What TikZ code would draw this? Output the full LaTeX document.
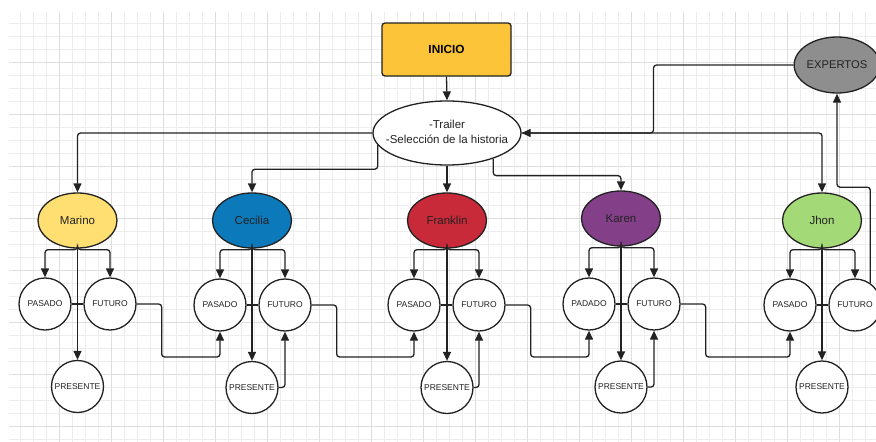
\documentclass[tikz,border=0pt]{standalone}
\usepackage{fontspec}
\setmainfont{Liberation Sans}
\usetikzlibrary{arrows.meta,shapes.geometric}
\definecolor{cInicio}{HTML}{FCC438}
\definecolor{cExp}{HTML}{8E8E8E}
\definecolor{cMarino}{HTML}{FFDF71}
\definecolor{cCecilia}{HTML}{0C79BB}
\definecolor{cFranklin}{HTML}{C92A39}
\definecolor{cKaren}{HTML}{834089}
\definecolor{cJhon}{HTML}{A3D977}
\definecolor{gminor}{HTML}{EDEDED}
\definecolor{gmajor}{HTML}{DEDEDE}
\definecolor{ink}{HTML}{222222}
\begin{document}
\begin{tikzpicture}[x=1pt,y=-1pt,
  line/.style={line width=1.3pt, draw=ink, rounded corners=3pt},
  arr/.style={line, -{Triangle[length=9pt,width=8pt]}},
  charnode/.style={ellipse, draw=ink, line width=1.3pt, minimum width=79pt, minimum height=55pt, inner sep=0pt, font=\fontsize{11.5}{14}\selectfont, text=ink},
  tcirc/.style={circle, draw=ink, fill=white, line width=1.3pt, minimum size=52pt, inner sep=0pt, font=\fontsize{8.5}{10}\selectfont, text=ink},
  gridminor/.style={draw=gminor, line width=0.9pt},
  gridmajor/.style={draw=gmajor, line width=1pt},
]
\useasboundingbox (0,0) rectangle (876,442);
\fill[white] (0,0) rectangle (876,442);
\begin{scope}
  \clip (9,12) rectangle (876,442);
  \foreach \x in {7,20,...,880} \draw[gridminor] (\x,12) -- (\x,442);
  \foreach \y in {10,23,...,445} \draw[gridminor] (9,\y) -- (876,\y);
  \foreach \x in {7,59,...,880} \draw[gridmajor] (\x,12) -- (\x,442);
  \foreach \y in {10,62,...,445} \draw[gridmajor] (9,\y) -- (876,\y);
\end{scope}

% top nodes
\node[draw=ink, line width=1.3pt, fill=cInicio, rounded corners=3pt, minimum width=129pt, minimum height=53pt, inner sep=0pt, font=\fontsize{11.8}{14}\selectfont\bfseries, text=black] (I) at (446.5,49.5) {INICIO};
\node[ellipse, draw=ink, fill=white, line width=1.3pt, minimum width=148pt, minimum height=64pt, inner sep=0pt] (T) at (447,133) {};
\node[align=center, inner sep=0pt, font=\fontsize{11.5}{15}\selectfont, text=ink] (TT) at (447,131.5) {-Trailer\\-Selección de la historia};
\node[ellipse, draw=ink, fill=cExp, line width=1.3pt, minimum width=82pt, minimum height=56pt, inner sep=0pt, font=\fontsize{11.2}{14}\selectfont, text=ink] (E) at (837,65) {EXPERTOS};

% characters
\node[charnode, fill=cMarino] (M) at (77.5,220.5) {Marino};
\node[charnode, fill=cCecilia] (C) at (252,220.5) {Cecilia};
\node[charnode, fill=cFranklin] (F) at (447,220.5) {Franklin};
\node[charnode, fill=cKaren] (K) at (621,218.5) {Karen};
\node[charnode, fill=cJhon] (J) at (822,220.5) {Jhon};

% time circles
\node[tcirc] (M1) at (45,304) {PASADO};
\node[tcirc] (M2) at (110,304) {FUTURO};
\node[tcirc] (M3) at (77.5,386.5) {PRESENTE};
\node[tcirc] (C1) at (220,305) {PASADO};
\node[tcirc] (C2) at (285,305) {FUTURO};
\node[tcirc] (C3) at (252,387.5) {PRESENTE};
\node[tcirc] (F1) at (414,305) {PASADO};
\node[tcirc] (F2) at (479,305) {FUTURO};
\node[tcirc] (F3) at (447,387.5) {PRESENTE};
\node[tcirc] (K1) at (589,304) {PADADO};
\node[tcirc] (K2) at (654,304) {FUTURO};
\node[tcirc] (K3) at (621,387) {PRESENTE};
\node[tcirc] (J1) at (790,305) {PASADO};
\node[tcirc] (J2) at (855,305) {FUTURO};
\node[tcirc] (J3) at (822,387) {PRESENTE};

% top connectors
\draw[arr] (I.south) -- (T.north);
\draw[arr] (T.west) -| (M.north);
\draw[arr] (T.190) -- ++(0,24) -| (C.north);
\draw[arr] (T.south) -- (F.north);
\draw[arr] (T.-29) -- ++(0,17) -| (K.north);
\draw[arr] (T.east) -| (J.north);
\draw[arr] (E.west) -- ++(-140,0) |- (T.east);
\draw[arr] (J2.55) -- ++(0,-96) -| (E.south);

% group connectors
\foreach \g in {M,C,F,K,J}{
  \draw[arr] (\g.south) -- ([yshift=-1pt]\g.south) -| (\g1.north);
  \draw[arr] (\g.south) -- ([yshift=-1pt]\g.south) -| (\g2.north);
  \draw[arr] (\g.south) -- (\g3.north);
  \draw[line] (\g1.east) -- (\g2.west);
}
\foreach \g in {C,F,K}{
  \draw[arr] (\g3.east) -| (\g2.south);
}
% chain futuro -> next pasado
\draw[arr] (M2.east) -- ++(25,0) -- ++(0,53) -| (C1.south);
\draw[arr] (C2.east) -- ++(25,0) -- ++(0,52) -| (F1.south);
\draw[arr] (F2.east) -- ++(25,0) -- ++(0,52) -| (K1.south);
\draw[arr] (K2.east) -- ++(25,0) -- ++(0,53) -| (J1.south);
\end{tikzpicture}
\end{document}
